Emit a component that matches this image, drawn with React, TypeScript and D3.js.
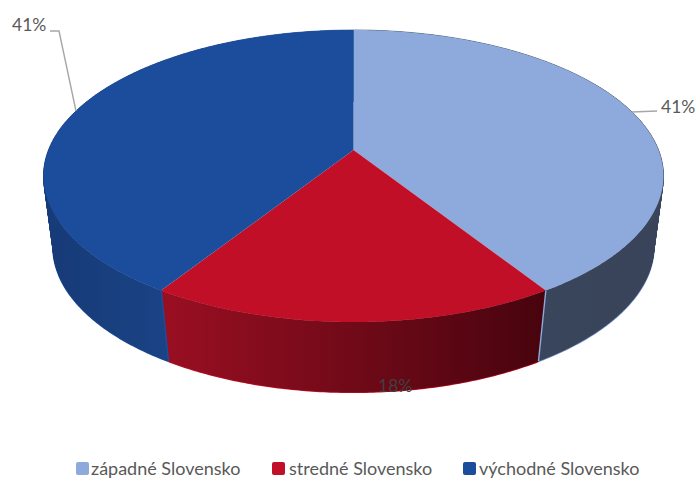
import React from 'react';
import * as d3 from 'd3';

const categories = ['západné Slovensko', 'stredné Slovensko', 'východné Slovensko'];
const shares = [41, 18, 41];

const topColors = ['#8EA9DB', '#C00F27', '#1C4C9C'];
const wallFrom = ['#39475E', '#47040E', '#163A76'];
const wallTo = ['#39445A', '#9A0F22', '#20509C'];

const width = 700;
const height = 481;
const font = 'Lato, "Open Sans", sans-serif';
const labelColor = '#595959';

// pie is tilted in perspective, so the circle goes through a projective map
type Plane = { rx: number; a: number; b: number; c: number };
const topPlane: Plane = { rx: 305, a: 114.7, b: 150, c: -0.178 };
const bottomPlane: Plane = { rx: 296, a: 103.8, b: 222, c: -0.169 };
const cx = 353.5;

const project = (p: Plane, angle: number): [number, number] => {
  const u = Math.sin(angle);
  const v = -Math.cos(angle);
  const w = 1 + p.c * v;
  return [cx + (p.rx * u) / w, (p.a * v + p.b) / w];
};

const arcPoints = (p: Plane, start: number, end: number) =>
  [...d3.range(start, end, 0.01), end].map((t) => project(p, t));

const line = d3.line();

const slices = d3.pie<number>().sort(null)(shares);

const legendX = [76, 272, 463];
const legendTextX = [91, 289, 479];

// one quad per step so the tangent part of the outline gets filled as well
const wallPath = (start: number, end: number) => {
  const upper = arcPoints(topPlane, start, end);
  const lower = arcPoints(bottomPlane, start, end);
  return d3
    .range(upper.length - 1)
    .map((i) => line([upper[i], upper[i + 1], lower[i + 1], lower[i]]) + 'Z')
    .join('');
};

const App: React.FC = () => {
  const apex: [number, number] = [cx, topPlane.b];

  return (
    <svg
      width={width}
      height={height}
      viewBox={`0 0 ${width} ${height}`}
      style={{ position: 'absolute', left: 0, top: 0, background: '#fff' }}
    >
      <defs>
        {slices.map((s, i) => {
          const xs = arcPoints(topPlane, s.startAngle, s.endAngle).map((d) => d[0]);
          const [x0, x1] = d3.extent(xs) as [number, number];
          return (
            <linearGradient
              key={i}
              id={`wall-${i}`}
              gradientUnits="userSpaceOnUse"
              x1={i === 1 ? x1 : x0}
              x2={i === 1 ? x0 : x1}
              y1={0}
              y2={0}
            >
              <stop offset="0" stopColor={wallFrom[i]} />
              <stop offset="1" stopColor={wallTo[i]} />
            </linearGradient>
          );
        })}
      </defs>

      {/* bright rim under each wall, only its outer half stays visible */}
      {slices.map((s, i) => (
        <path
          key={i}
          d={line(arcPoints(bottomPlane, s.startAngle, s.endAngle)) ?? ''}
          fill="none"
          stroke={topColors[i]}
          strokeWidth={2}
        />
      ))}

      {/* side walls, the top faces cover whatever sticks out behind */}
      {slices.map((s, i) => (
        <path
          key={i}
          d={wallPath(s.startAngle, s.endAngle)}
          fill={`url(#wall-${i})`}
          stroke={`url(#wall-${i})`}
          strokeWidth={0.6}
        />
      ))}

      {/* seams between the walls */}
      {[
        { angle: slices[0].endAngle, color: topColors[0] },
        { angle: slices[2].startAngle, color: topColors[2] },
      ].map((seam) => (
        <path
          key={seam.color}
          d={line([project(topPlane, seam.angle), project(bottomPlane, seam.angle)]) ?? ''}
          stroke={seam.color}
          strokeWidth={1.4}
        />
      ))}

      {/* top faces */}
      {slices.map((s, i) => (
        <path
          key={i}
          d={line([apex, ...arcPoints(topPlane, s.startAngle, s.endAngle)]) + 'Z'}
          fill={topColors[i]}
        />
      ))}

      {/* leader lines */}
      <path d="M50,31H59L76,111" fill="none" stroke="#A6A6A6" strokeWidth={1.4} />
      <path d="M632,112L657,111" fill="none" stroke="#A6A6A6" strokeWidth={1.4} />

      <g fontFamily={font} fontSize={17.5} fill={labelColor}>
        <text x={12} y={31}>{`${shares[2]}%`}</text>
        <text x={661} y={113}>{`${shares[0]}%`}</text>
        <text x={378} y={392} fill="#404040">{`${shares[1]}%`}</text>
      </g>

      {categories.map((c, i) => (
        <g key={c}>
          <rect x={legendX[i]} y={462} width={13} height={13} rx={2} fill={topColors[i]} />
          <text x={legendTextX[i]} y={475} fontFamily={font} fontSize={18} fill={labelColor}>
            {c}
          </text>
        </g>
      ))}
    </svg>
  );
};

export default App;
